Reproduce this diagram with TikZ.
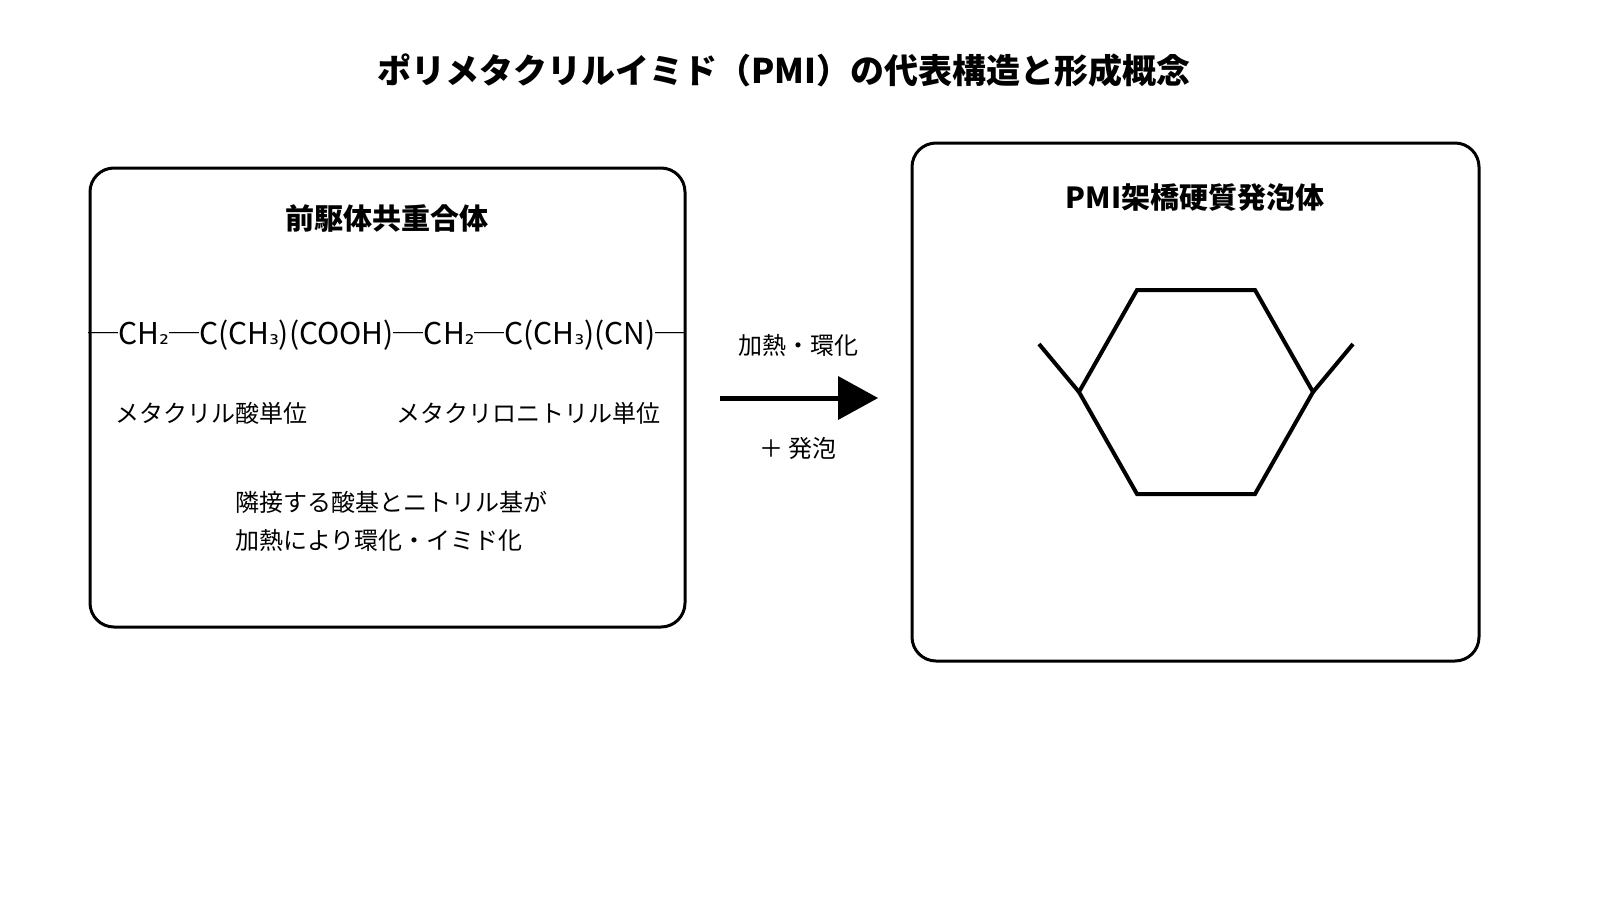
\documentclass[tikz,border=0pt]{standalone}
\usepackage{fontspec}
\setmainfont{Noto Sans CJK JP}
\newfontfamily\djvsub{DejaVu Sans}
\newcommand\subz[1]{{\djvsub\fontsize{12}{14}\selectfont #1}}
\begin{document}
\begin{tikzpicture}[x=0.5pt,y=-0.5pt,
 box/.style={draw,line width=1.5pt,rounded corners=12pt},
 lbl/.style={font=\fontsize{12}{14}\selectfont,inner sep=0},
 hd/.style={font=\bfseries\fontsize{14.5}{16}\selectfont,inner sep=0},
 bd/.style={line width=2pt}]
\useasboundingbox (0,0) rectangle (1600,900);
\node[hd,font=\bfseries\fontsize{17}{20}\selectfont] (title) at (784,70) {ポリメタクリルイミド（PMI）の代表構造と形成概念};
\draw[box] (90,168) rectangle (685,627);
\draw[box] (912,143) rectangle (1479,661);
\node[hd] (lh) at (387,218) {前駆体共重合体};
\node[hd] (rh) at (1195,198) {PMI架橋硬質発泡体};
\node[lbl,font=\fontsize{15}{18}\selectfont] (f) at (387,335) {─CH\subz{₂}─C(CH\subz{₃})(COOH)─CH\subz{₂}─C(CH\subz{₃})(CN)─};
\node[lbl] (u1) at (211,413) {メタクリル酸単位};
\node[lbl] (u2) at (528,413) {メタクリロニトリル単位};
\node[lbl,anchor=west,align=left,font=\fontsize{12}{19}\selectfont] (n) at (235,521) {隣接する酸基とニトリル基が\\加熱により環化・イミド化};
\coordinate (a1) at (720,398);
\coordinate (a2) at (878,398);
\draw[line width=2.5pt] (a1) -- (840,398);
\fill (838,376) -- (a2) -- (838,420) -- cycle;
\node[lbl] (t1) at (798,345) {加熱・環化};
\node[lbl] (t2) at (798,448) {＋ 発泡};
\coordinate (h1) at (1137,290); \coordinate (h2) at (1255,290);
\coordinate (h3) at (1313,392); \coordinate (h4) at (1255,494);
\coordinate (h5) at (1137,494); \coordinate (h6) at (1079,392);
\coordinate (e1) at (1039,344); \coordinate (e2) at (1353,344);
\draw[bd] (h1)--(h2)--(h3)--(h4)--(h5)--(h6)--cycle;
\draw[bd] (h6)--(e1); \draw[bd] (h3)--(e2);
\end{tikzpicture}
\end{document}
